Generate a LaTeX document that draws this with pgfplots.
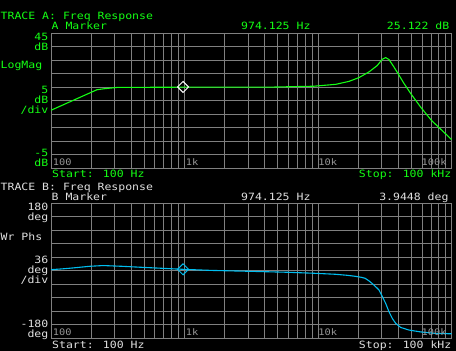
\documentclass[border=0pt]{standalone}
\usepackage{pgfplots}
\pgfplotsset{compat=1.18}
\usepackage{fontspec}
\setmainfont{DejaVu Sans Mono}[FakeStretch=1.15]
\definecolor{scrgreen}{RGB}{20,255,20}
\definecolor{gridgray}{RGB}{128,128,128}
\definecolor{txtgray}{RGB}{224,224,224}
\definecolor{ticklbl}{RGB}{150,150,150}
\definecolor{trcyan}{RGB}{0,190,240}
\pgfplotsset{scr/.style={
  scale only axis, width=400.7pt, height=135pt, anchor=south west,
  xmin=100, xmax=100000,
  xtick={100,1000,10000,100000},
  minor xtick={200,300,400,500,600,700,800,900,2000,3000,4000,5000,6000,7000,8000,9000,20000,30000,40000,50000,60000,70000,80000,90000},
  xticklabels={}, yticklabels={},
  major tick length=0pt, minor tick length=0pt,
  xmajorgrids, xminorgrids, ymajorgrids,
  major grid style={gridgray, line width=1pt},
  minor grid style={gridgray, line width=1pt},
  axis line style={gridgray, line width=1pt},
  tick style={draw=none},
  clip=true,
}}
\newcommand{\mainf}{\fontsize{10}{10}\selectfont}
\newcommand{\tickf}{\fontsize{9}{9}\selectfont}
\begin{document}
\begin{tikzpicture}[x=1pt,y=1pt]
\fill[black] (0,0) rectangle (456,351);
% ---------- Trace A ----------
\begin{semilogxaxis}[scr, at={(51pt,182.7pt)}, ymin=-5, ymax=45, ytick={-5,0,...,45}]
\addplot[scrgreen, line width=1.1pt] coordinates {
(100,16.5) (221,24.1) (253,24.5) (312,24.95) (974.125,25.05) (4270,25.05) (9270,25.4)
(13550,26.1) (17030,27.2) (20230,28.6) (24040,30.7) (27750,33.1) (30240,35.4)
(32000,36.0) (33880,35.3) (36960,32.5) (39630,30.1) (43950,26.4) (49320,22.7)
(58480,17.7) (70330,12.8) (100000,5.6)};
\addplot[white, line width=1pt, mark=square, mark size=3.9pt, mark options={rotate=45, solid}, only marks] coordinates {(974.125,25.122)};
\node[anchor=base west, ticklbl, font=\tickf, inner sep=0pt, xshift=1.7pt, yshift=2.6pt] at (axis cs:100,-5) {100};
\node[anchor=base west, ticklbl, font=\tickf, inner sep=0pt, xshift=1pt, yshift=2.6pt] at (axis cs:1000,-5) {1k};
\node[anchor=base west, ticklbl, font=\tickf, inner sep=0pt, xshift=0pt, yshift=2.6pt] at (axis cs:10000,-5) {10k};
\node[anchor=base east, ticklbl, font=\tickf, inner sep=0pt, xshift=-5pt, yshift=2.6pt] at (axis cs:100000,-5) {100k};
\end{semilogxaxis}
% ---------- Trace B ----------
\begin{semilogxaxis}[scr, at={(51pt,12.7pt)}, ymin=-180, ymax=180, ytick={-180,-144,...,180}]
\addplot[trcyan, line width=1.1pt] coordinates {
(100,3) (120,5) (140,7) (165,9.5) (195,12) (245,14) (340,12) (465,9.5) (650,7)
(974.125,3.9448) (1600,1) (3200,-1.5) (6000,-4) (9500,-6.7) (13500,-9.3) (16500,-12)
(19000,-14.7) (21000,-17.3) (22500,-20) (24040,-27) (26180,-38) (28530,-51) (30260,-69)
(32050,-87) (33900,-109) (35940,-127) (38040,-140) (41500,-151) (47830,-158)
(58480,-163) (75820,-167) (100000,-168)};
\addplot[trcyan, line width=1pt, mark=square, mark size=3.9pt, mark options={rotate=45, solid}, only marks] coordinates {(974.125,3.9448)};
\node[anchor=base west, ticklbl, font=\tickf, inner sep=0pt, xshift=1.7pt, yshift=2.6pt] at (axis cs:100,-180) {100};
\node[anchor=base west, ticklbl, font=\tickf, inner sep=0pt, xshift=1pt, yshift=2.6pt] at (axis cs:1000,-180) {1k};
\node[anchor=base west, ticklbl, font=\tickf, inner sep=0pt, xshift=0pt, yshift=2.6pt] at (axis cs:10000,-180) {10k};
\node[anchor=base east, ticklbl, font=\tickf, inner sep=0pt, xshift=-5pt, yshift=2.6pt] at (axis cs:100000,-180) {100k};
\end{semilogxaxis}
% ---------- texts A ----------
\begin{scope}[every node/.style={inner sep=0pt, font=\mainf, text=scrgreen}]
\node[anchor=base west] at (0.5,331) {TRACE A: Freq Response};
\node[anchor=base west] at (51.5,321) {A Marker};
\node[anchor=base west] at (241,321) {974.125 Hz};
\node[anchor=base east] at (449.5,321) {25.122 dB};
\node[anchor=base east] at (48.5,310) {45};
\node[anchor=base east] at (48.5,300) {dB};
\node[anchor=base west] at (0.5,282) {LogMag};
\node[anchor=base east] at (48.5,257) {5};
\node[anchor=base east] at (48.5,247) {dB};
\node[anchor=base east] at (48.5,237) {/div};
\node[anchor=base east] at (48.5,194) {-5};
\node[anchor=base east] at (48.5,184) {dB};
\node[anchor=base west] at (52,173) {Start: 100 Hz};
\node[anchor=base east] at (451.5,173) {Stop: 100 kHz};
\end{scope}
% ---------- texts B ----------
\begin{scope}[every node/.style={inner sep=0pt, font=\mainf, text=txtgray}]
\node[anchor=base west] at (0.5,160.5) {TRACE B: Freq Response};
\node[anchor=base west] at (51.5,150.3) {B Marker};
\node[anchor=base west] at (241,150.3) {974.125 Hz};
\node[anchor=base east] at (448.7,150.3) {3.9448 deg};
\node[anchor=base east] at (48.5,140.3) {180};
\node[anchor=base east] at (48.5,130.3) {deg};
\node[anchor=base west] at (0.5,110) {Wr Phs};
\node[anchor=base east] at (48.5,87) {36};
\node[anchor=base east] at (48.5,77) {deg};
\node[anchor=base east] at (48.5,67) {/div};
\node[anchor=base east] at (48.5,23.7) {-180};
\node[anchor=base east] at (48.5,13.7) {deg};
\node[anchor=base west] at (52,2.5) {Start: 100 Hz};
\node[anchor=base east] at (451.5,2.5) {Stop: 100 kHz};
\end{scope}
\pgfresetboundingbox
\path[use as bounding box] (0,0) rectangle (456,351);
\end{tikzpicture}
\end{document}
